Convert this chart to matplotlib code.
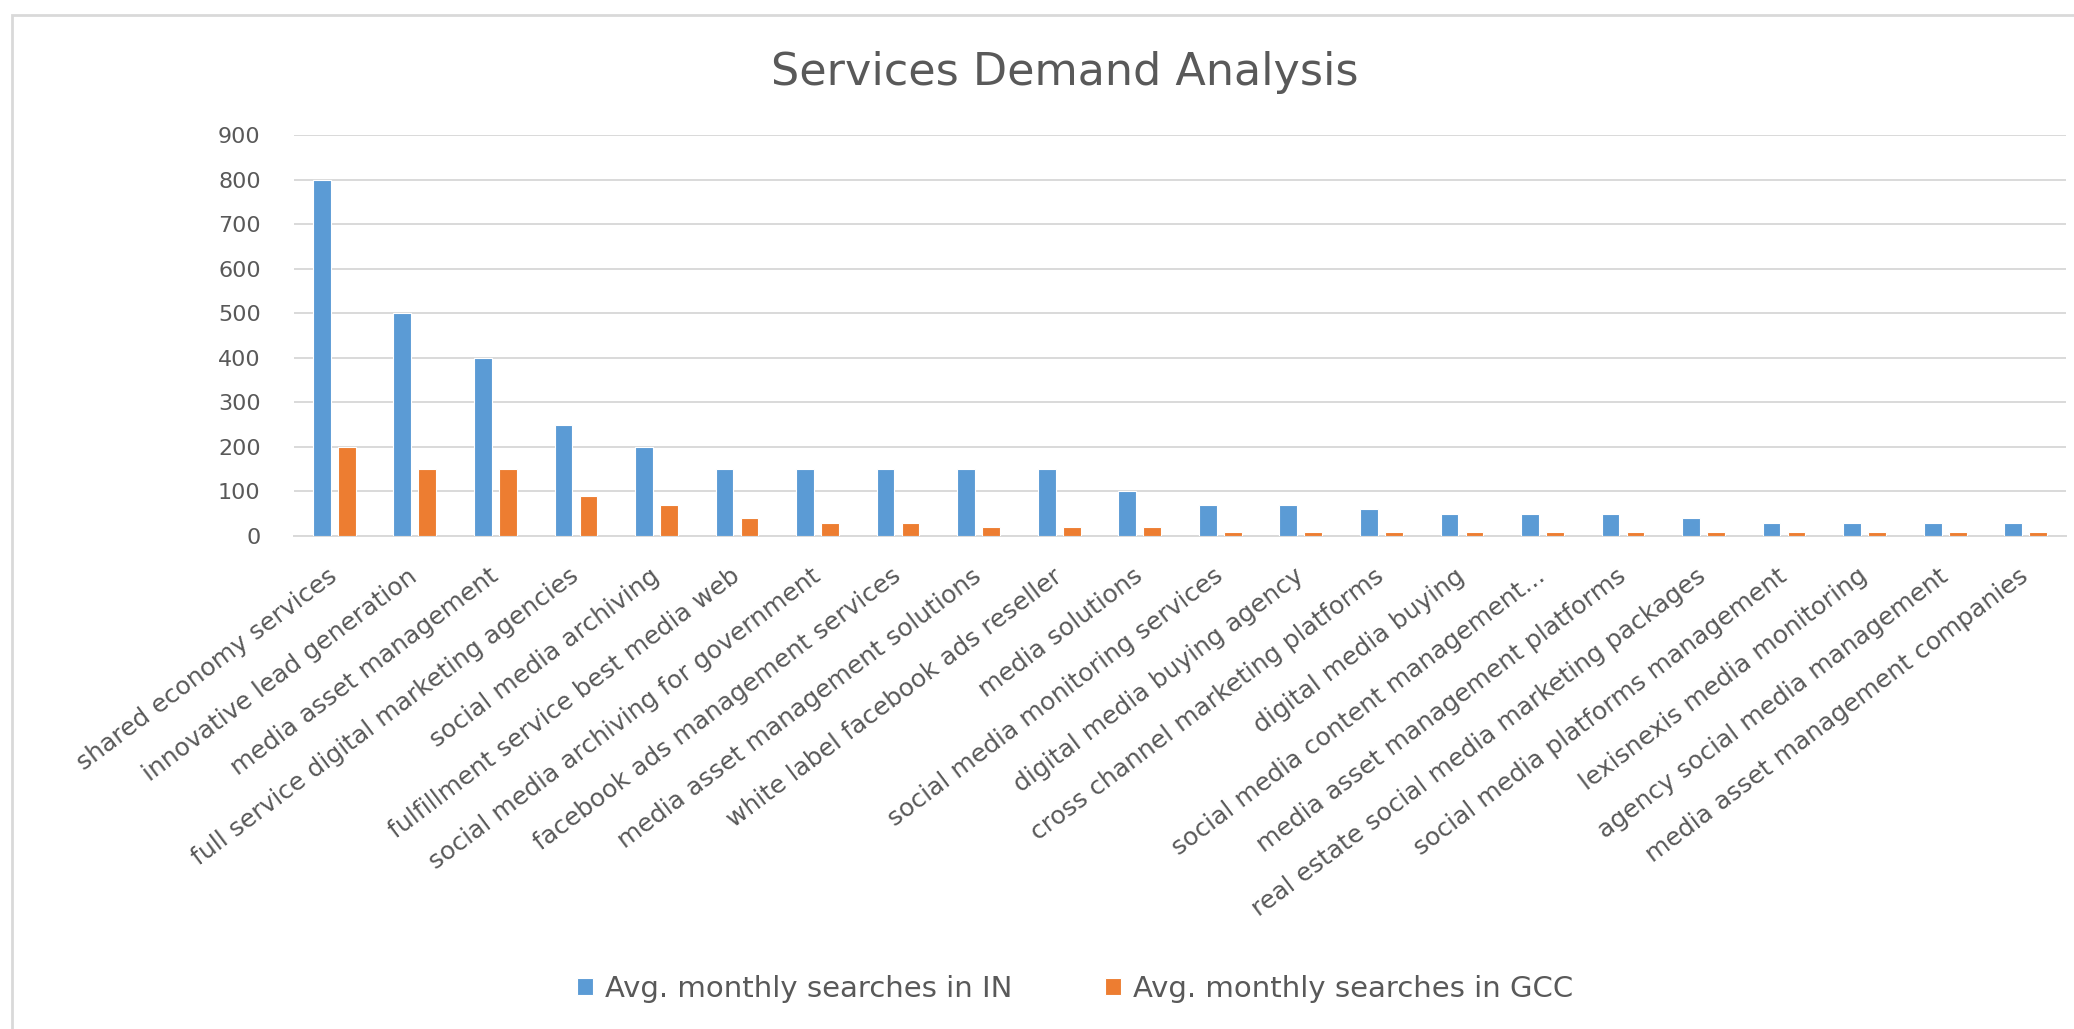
import numpy as np
import matplotlib.pyplot as plt
from matplotlib.patches import Rectangle

services = [
    "shared economy services",
    "innovative lead generation",
    "media asset management",
    "full service digital marketing agencies",
    "social media archiving",
    "fulfillment service best media web",
    "social media archiving for government",
    "facebook ads management services",
    "media asset management solutions",
    "white label facebook ads reseller",
    "media solutions",
    "social media monitoring services",
    "digital media buying agency",
    "cross channel marketing platforms",
    "digital media buying",
    "social media content management...",
    "media asset management platforms",
    "real estate social media marketing packages",
    "social media platforms management",
    "lexisnexis media monitoring",
    "agency social media management",
    "media asset management companies",
]
searches_in = [800, 500, 400, 250, 200, 150, 150, 150, 150, 150, 100,
               70, 70, 60, 50, 50, 50, 40, 30, 30, 30, 30]
searches_gcc = [200, 150, 150, 90, 70, 40, 30, 30, 20, 20, 20,
                10, 10, 10, 10, 10, 10, 10, 10, 10, 10, 10]
series_names = ["Avg. monthly searches in IN", "Avg. monthly searches in GCC"]

text_col = "#595959"
grid_col = "#D9D9D9"

fig = plt.figure(figsize=(20.74, 10.29), dpi=100)
ax = fig.add_axes([294 / 2074, 1 - 536 / 1029, (2066 - 294) / 2074, (536 - 135) / 1029])

x = np.arange(len(services))
ax.bar(x - 0.155, searches_in, width=0.22, color="#5B9BD5", edgecolor="white",
       linewidth=0.8, label=series_names[0], zorder=3)
ax.bar(x + 0.155, searches_gcc, width=0.22, color="#ED7D31", edgecolor="white",
       linewidth=0.8, label=series_names[1], zorder=3)

ax.set_xlim(-0.5, len(services) - 0.5)
ax.set_ylim(0, 900)
ax.set_yticks(range(0, 901, 100))
ax.grid(axis="y", color=grid_col, linewidth=1.4, zorder=0)
for s in ["top", "right", "left"]:
    ax.spines[s].set_visible(False)
ax.spines["bottom"].set_color(grid_col)
ax.spines["bottom"].set_linewidth(1.4)

ax.set_xticks(x)
ax.set_xticklabels(services, rotation=37, ha="right", va="center",
                   rotation_mode="anchor", fontsize=18, color=text_col)
ax.tick_params(axis="x", length=0, pad=27)
ax.tick_params(axis="y", length=0, pad=24, labelsize=16, labelcolor=text_col)

fig.text(1065 / 2074, 1 - 73 / 1029, "Services Demand Analysis", ha="center",
         va="center", fontsize=32, color=text_col)

fig.legend(loc="center", bbox_to_anchor=(1075 / 2074, 1 - 989 / 1029), ncol=2,
           frameon=False, fontsize=21, labelcolor=text_col, handlelength=0.55,
           handleheight=0.55, handletextpad=0.4, columnspacing=3.2)

# chart area border
fig.patches.append(Rectangle((12 / 2074, -0.2), 1.2, 1.2 - 15 / 1029,
                             transform=fig.transFigure, fill=False,
                             edgecolor=grid_col, linewidth=2))

fig.savefig("out.png", dpi=100)
